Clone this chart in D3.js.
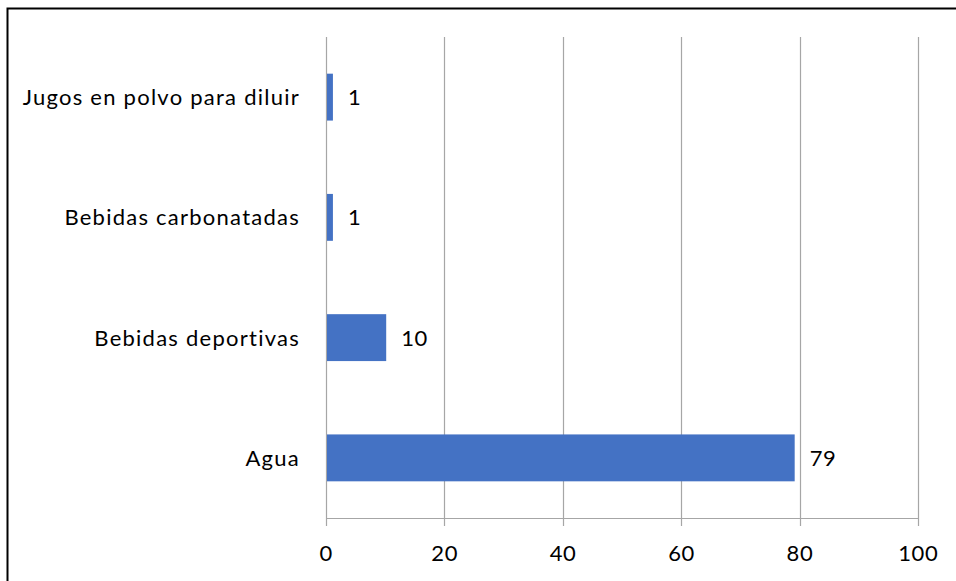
<!DOCTYPE html>
<html><head><meta charset="utf-8">
<script src="https://cdn.jsdelivr.net/npm/d3@7"></script>
<style>body{margin:0;background:#fff}svg{display:block}</style>
</head><body>
<script>
const categories = ["Jugos en polvo para diluir","Bebidas carbonatadas","Bebidas deportivas","Agua"];
const values = [1,1,10,79];
const xTicks = [0,20,40,60,80,100];

(function(){
const W=956,H=581;
const svg=d3.select("body").append("svg").attr("width",W).attr("height",H);
svg.append("rect").attr("width",W).attr("height",H).attr("fill","#fff");
// frame
svg.append("path").attr("d",`M7.5,${H} L7.5,8.5 L${W},8.5`).attr("fill","none").attr("stroke","#000").attr("stroke-width",2);

const pLeft=326,pRight=918,pTop=37,pBottom=518;
const x=d3.scaleLinear().domain([0,100]).range([pLeft,pRight]);
const y=d3.scaleBand().domain(categories).range([pTop,pBottom]).paddingInner(0.61).paddingOuter(0.305);
const font="Lato, 'Open Sans', sans-serif";

// gridlines
svg.append("g").selectAll("line").data(xTicks).join("line")
  .attr("x1",d=>Math.round(x(d))+0.5).attr("x2",d=>Math.round(x(d))+0.5)
  .attr("y1",pTop).attr("y2",pBottom+8)
  .attr("stroke","#a6a6a6").attr("stroke-width",1.2);
// x axis line
svg.append("line").attr("x1",pLeft).attr("x2",pRight+1).attr("y1",pBottom+0.5).attr("y2",pBottom+0.5)
  .attr("stroke","#a6a6a6").attr("stroke-width",1.2);

// bars
svg.append("g").selectAll("rect").data(values).join("rect")
  .attr("x",x(0)+1).attr("y",(d,i)=>y(categories[i]))
  .attr("width",d=>x(d)-x(0)).attr("height",y.bandwidth())
  .attr("fill","#4472C4");

// value labels
svg.append("g").selectAll("text").data(values).join("text")
  .attr("x",d=>x(d)+16).attr("y",(d,i)=>y(categories[i])+y.bandwidth()/2)
  .attr("dy","0.36em").attr("font-family",font).attr("font-size",22).attr("fill","#000")
  .attr("letter-spacing",0.5)
  .text(d=>d);

// category labels
svg.append("g").selectAll("text").data(categories).join("text")
  .attr("x",300).attr("y",d=>y(d)+y.bandwidth()/2).attr("dy","0.36em")
  .attr("text-anchor","end").attr("font-family",font).attr("font-size",22).attr("fill","#000")
  .attr("letter-spacing",1.25)
  .text(d=>d);

// tick labels
svg.append("g").selectAll("text").data(xTicks).join("text")
  .attr("x",d=>x(d)+0.3).attr("y",553).attr("dy","0.36em").attr("text-anchor","middle")
  .attr("font-family",font).attr("font-size",22).attr("fill","#000")
  .attr("letter-spacing",0.6)
  .text(d=>d);
})();
</script>
</body></html>
